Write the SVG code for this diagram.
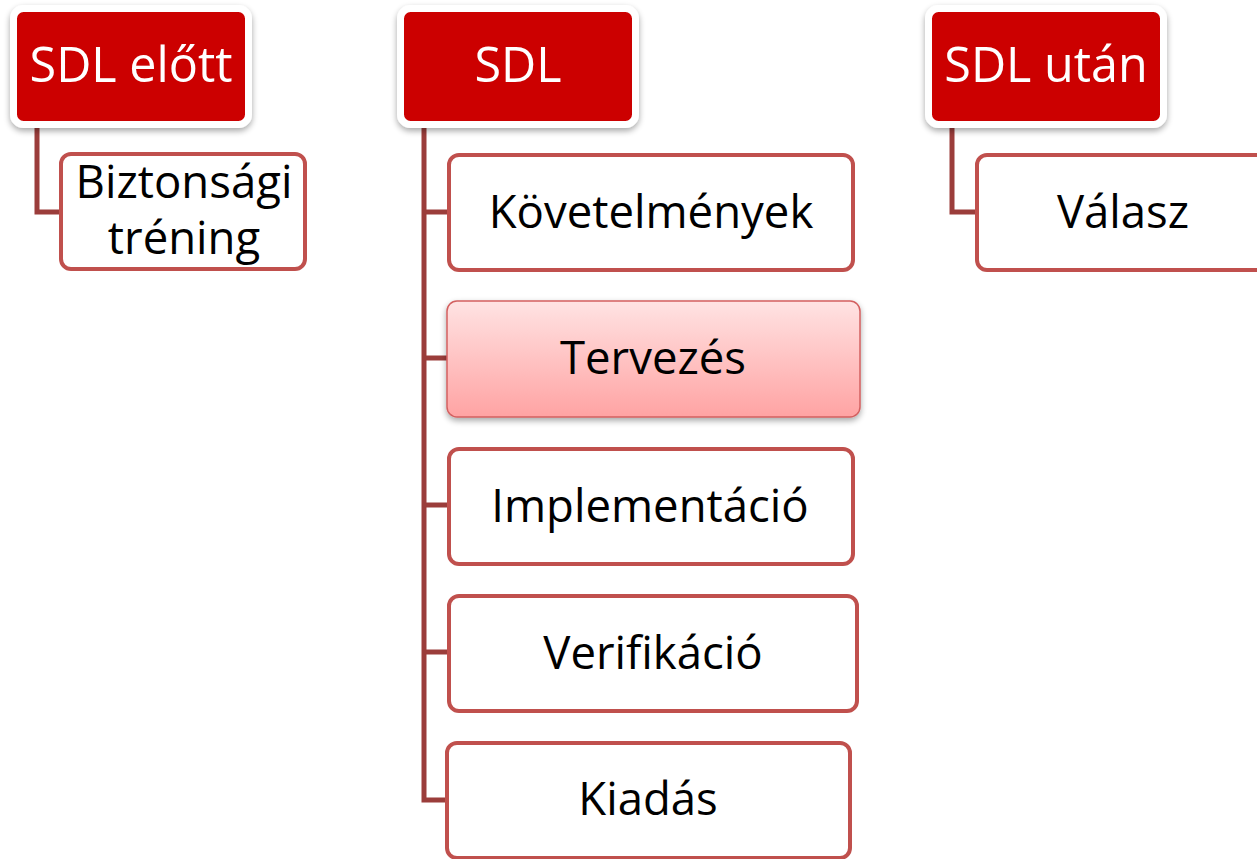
<svg xmlns="http://www.w3.org/2000/svg" width="1257" height="859" viewBox="0 0 1257 859">
<defs>
<linearGradient id="pinkGrad" x1="0" y1="0" x2="0" y2="1">
<stop offset="0" stop-color="#FFE3E3"/>
<stop offset="1" stop-color="#FFA3A3"/>
</linearGradient>
<filter id="shadow" x="-10%" y="-10%" width="120%" height="130%">
<feGaussianBlur in="SourceAlpha" stdDeviation="3"/>
<feOffset dx="0" dy="3" result="b"/>
<feComponentTransfer><feFuncA type="linear" slope="0.35"/></feComponentTransfer>
<feMerge><feMergeNode/><feMergeNode in="SourceGraphic"/></feMerge>
</filter>
</defs>
<style>
.head{fill:#CC0000;stroke:#FFFFFF;stroke-width:7;filter:url(#shadow)}
.child{fill:#FFFFFF;stroke:#C0504D;stroke-width:4}
.sel{fill:url(#pinkGrad);stroke:#D36060;stroke-width:1.5;filter:url(#shadow)}
.ht{font-family:"Open Sans","Noto Sans",sans-serif;font-size:48.5px;fill:#FFFFFF;text-anchor:middle}
.ct{font-family:"Open Sans","Noto Sans",sans-serif;font-size:45.5px;fill:#000000;text-anchor:middle}
.conn{fill:none;stroke:#9B3D3B;stroke-width:5}
</style>
<g id="connectors">
<path class="conn" d="M37,126 V212 H60"/>
<path class="conn" d="M424,126 V800 H447"/>
<path class="conn" d="M424,212 H447"/>
<path class="conn" d="M424,358 H447"/>
<path class="conn" d="M424,505 H447"/>
<path class="conn" d="M424,652 H447"/>
<path class="conn" d="M952,126 V212 H975"/>
</g>
<g id="node-sdl-elott">
<rect class="head" x="13.5" y="8.5" width="235" height="116" rx="10"/>
<text class="ht" x="131" y="82">SDL előtt</text>
</g>
<g id="node-biztonsagi">
<rect class="child" x="61" y="154" width="244" height="115" rx="10"/>
<text class="ct" x="184" y="198">Biztonsági</text>
<text class="ct" x="184" y="254">tréning</text>
</g>
<g id="node-sdl">
<rect class="head" x="400.5" y="8.5" width="235" height="116" rx="10"/>
<text class="ht" x="518" y="82">SDL</text>
</g>
<g id="node-kovetelmenyek">
<rect class="child" x="449" y="155" width="404" height="115" rx="10"/>
<text class="ct" x="651" y="228">Követelmények</text>
</g>
<g id="node-tervezes">
<rect class="sel" x="447" y="301" width="413" height="116" rx="10"/>
<text class="ct" x="653" y="374">Tervezés</text>
</g>
<g id="node-implementacio">
<rect class="child" x="449" y="449" width="404" height="115" rx="10"/>
<text class="ct" x="650" y="522">Implementáció</text>
</g>
<g id="node-verifikacio">
<rect class="child" x="449" y="596" width="408" height="115" rx="10"/>
<text class="ct" x="653" y="669">Verifikáció</text>
</g>
<g id="node-kiadas">
<rect class="child" x="447" y="743" width="403" height="115" rx="10"/>
<text class="ct" x="648" y="815">Kiadás</text>
</g>
<g id="node-sdl-utan">
<rect class="head" x="928.5" y="8.5" width="235" height="116" rx="10"/>
<text class="ht" x="1046" y="82">SDL után</text>
</g>
<g id="node-valasz">
<rect class="child" x="977" y="155" width="300" height="115" rx="10"/>
<text class="ct" x="1123" y="228">Válasz</text>
</g>
</svg>
